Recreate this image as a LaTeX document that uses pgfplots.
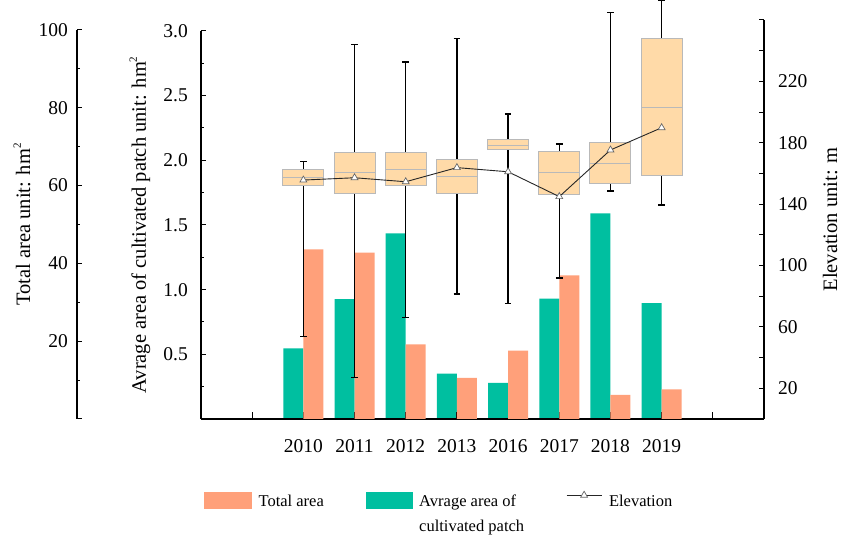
\documentclass[border=0pt]{standalone}
\usepackage{fontspec}
\setmainfont{Liberation Serif}
\usepackage{pgfplots}
\pgfplotsset{compat=1.18}
\usepgfplotslibrary{statistics}
\definecolor{barorange}{RGB}{255,160,122}
\definecolor{bargreen}{RGB}{0,191,160}
\definecolor{boxfill}{RGB}{255,218,168}
\definecolor{boxedge}{RGB}{185,185,185}
\newcommand\tickfont{\fontsize{19.5}{23}\selectfont}
\newcommand\labfont{\fontsize{20.5}{25}\selectfont}
\newcommand\legfont{\fontsize{16.5}{25.5}\selectfont}
\newcommand\sq{\raisebox{0.45em}{\fontsize{11}{11}\selectfont 2}}
\pgfplotsset{
  common/.style={scale only axis, xmin=-1, xmax=10, width=563pt,
    /pgf/number format/assume math mode=true, tick align=inside,
    ticklabel style={font=\tickfont},
    axis line style={line width=1.4pt},
    every tick/.style={black, line width=1pt},
    major tick length=5pt, minor tick length=3pt, clip=false},
  elevlegend/.style={legend image code/.code={\draw[##1, mark repeat=2, mark phase=2]
    plot coordinates {(0pt,6pt)(17.5pt,6pt)(35pt,6pt)};}},
  orangelegend/.style={legend image code/.code={\fill[barorange] (0pt,-7pt) rectangle (47pt,9pt);}},
  greenlegend/.style={legend image code/.code={\fill[bargreen] (0pt,-7pt) rectangle (46pt,9pt);}},
}
\begin{document}
\begin{tikzpicture}
\useasboundingbox (0,0) rectangle (850pt,543pt);

% inner left axis: average area of cultivated patch
\begin{axis}[common, at={(201pt,124pt)}, anchor=south west, height=388pt,
  ymin=0, ymax=3, axis y line*=left, hide x axis,
  ytick={0.5,1,1.5,2,2.5,3}, minor ytick={0.25,0.75,1.25,1.75,2.25,2.75},
  yticklabel style={/pgf/number format/fixed, /pgf/number format/fixed zerofill,
    /pgf/number format/precision=1, inner sep=0pt, anchor=east, xshift=-13pt},
  ylabel={Avrage area of cultivated patch unit: hm\sq},
  every axis y label/.style={at={(axis description cs:-0.0977,0.5)}, rotate=90, anchor=base, font=\labfont}]
\addplot[ybar, bar width=20pt, bar shift=-10pt, fill=bargreen, draw=none]
  coordinates {(1,0.547)(2,0.926)(3,1.436)(4,0.350)(5,0.280)(6,0.930)(7,1.590)(8,0.895)};
\end{axis}

% total area bars + x axis
\begin{axis}[common, at={(201pt,124pt)}, anchor=south west, height=389pt,
  ymin=0, ymax=100, axis x line*=bottom, hide y axis,
  xtick={0,1,2,3,4,5,6,7,8,9},
  xticklabels={,2010,2011,2012,2013,2016,2017,2018,2019,},
  major tick length=7pt,
  xticklabel style={inner sep=0pt, anchor=north, yshift=-20pt}]
\addplot[ybar, bar width=20pt, bar shift=10pt, fill=barorange, draw=none]
  coordinates {(1,43.6)(2,42.8)(3,19.2)(4,10.6)(5,17.6)(6,36.9)(7,6.2)(8,7.6)};
\end{axis}

% outer left axis: total area
\begin{axis}[common, at={(77pt,124pt)}, anchor=south west, width=1pt, xmin=0, xmax=1,
  height=389pt, ymin=0, ymax=100, axis y line*=left, hide x axis,
  ytick={0,20,40,60,80,100}, yticklabels={,20,40,60,80,100},
  minor ytick={10,30,50,70,90},
  yticklabel style={inner sep=0pt, anchor=east, xshift=-9pt},
  ylabel={Total area unit: hm\sq},
  every axis y label/.style={at={(axis description cs:-47,0.5)}, rotate=90, anchor=base, font=\labfont}]
\addplot[draw=none, forget plot] coordinates {(0,0)};
\end{axis}

% right axis: elevation, boxplots, line, legend
\begin{axis}[common, at={(201pt,124pt)}, anchor=south west, height=399pt,
  ymin=0, ymax=260, axis y line*=right, hide x axis,
  ytick={20,40,60,80,100,120,140,160,180,200,220,240,260},
  yticklabels={20,,60,,100,,140,,180,,220,,},
  yticklabel style={inner sep=0pt, anchor=west, xshift=14pt},
  ylabel={Elevation unit: m},
  every axis y label/.style={at={(axis description cs:1.1297,0.5)}, rotate=90, anchor=base, font=\labfont},
  boxplot/draw direction=y,
  boxplot/every box/.style={fill=boxfill},
  boxplot/every whisker/.style={draw=black, line width=1.3pt},
  boxplot/every median/.style={draw=boxedge, line width=1pt},
  legend style={at={(axis description cs:0.0053,-0.1805)}, anchor=north west,
    draw=none, fill=none, inner sep=0pt, font=\legfont,
    nodes={inner sep=0pt},
    /tikz/every odd column/.append style={column sep=7pt},
    /tikz/every even column/.append style={column sep=42pt}},
  legend columns=3, legend cell align=left]
\addlegendimage{orangelegend}
\addlegendentry{Total area}
\addlegendimage{greenlegend}
\addlegendentry{\vtop{\hbox{Avrage area of}\hbox{cultivated patch}}}

\addplot[forget plot, draw=boxedge, line width=1pt, boxplot prepared={draw position=1,
  lower whisker=53.9, lower quartile=152.0, median=157.2, upper quartile=162.3,
  upper whisker=167.7, box extend=0.8, whisker extend=0.13}] coordinates {};
\addplot[forget plot, draw=boxedge, line width=1pt, boxplot prepared={draw position=2,
  lower whisker=26.9, lower quartile=147.0, median=160.3, upper quartile=173.8,
  upper whisker=243.9, box extend=0.8, whisker extend=0.13}] coordinates {};
\addplot[forget plot, draw=boxedge, line width=1pt, boxplot prepared={draw position=3,
  lower whisker=66.3, lower quartile=152.0, median=162.9, upper quartile=173.8,
  upper whisker=232.6, box extend=0.8, whisker extend=0.13}] coordinates {};
\addplot[forget plot, draw=boxedge, line width=1pt, boxplot prepared={draw position=4,
  lower whisker=81.5, lower quartile=147.0, median=158.2, upper quartile=168.8,
  upper whisker=248.1, box extend=0.8, whisker extend=0.13}] coordinates {};
\addplot[forget plot, draw=boxedge, line width=1pt, boxplot prepared={draw position=5,
  lower whisker=75.4, lower quartile=175.3, median=178.5, upper quartile=182.0,
  upper whisker=198.7, box extend=0.8, whisker extend=0.13}] coordinates {};
\addplot[forget plot, draw=boxedge, line width=1pt, boxplot prepared={draw position=6,
  lower whisker=91.9, lower quartile=146.6, median=160.3, upper quartile=174.2,
  upper whisker=179.2, box extend=0.8, whisker extend=0.13}] coordinates {};
\addplot[forget plot, draw=boxedge, line width=1pt, boxplot prepared={draw position=7,
  lower whisker=148.6, lower quartile=153.3, median=166.8, upper quartile=180.3,
  upper whisker=264.8, box extend=0.8, whisker extend=0.13}] coordinates {};
\addplot[forget plot, draw=boxedge, line width=1pt, boxplot prepared={draw position=8,
  lower whisker=139.4, lower quartile=158.5, median=203.3, upper quartile=248.1,
  upper whisker=273.0, box extend=0.8, whisker extend=0.13}] coordinates {};

\addplot[black!85, line width=0.9pt, mark=triangle*, mark size=4pt,
  mark options={fill=white, draw=gray!80!black, line width=0.7pt}, elevlegend]
  coordinates {(1,155.7)(2,157.2)(3,154.6)(4,163.8)(5,161.1)(6,144.9)(7,175.3)(8,189.8)};
\addlegendentry{Elevation}
\end{axis}
\end{tikzpicture}
\end{document}
